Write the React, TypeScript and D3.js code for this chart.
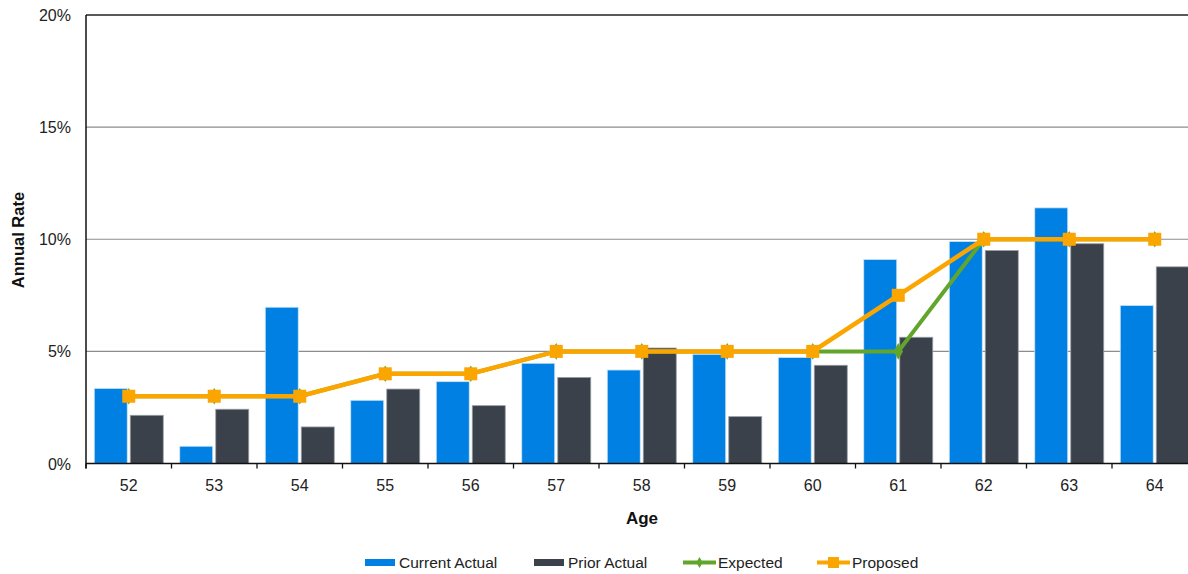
import React, { useEffect, useRef } from "react";
import * as d3 from "d3";

const ages = ["52", "53", "54", "55", "56", "57", "58", "59", "60", "61", "62", "63", "64"];
const currentActual = [3.35, 0.77, 6.97, 2.82, 3.65, 4.47, 4.17, 4.87, 4.73, 9.1, 9.9, 11.4, 7.05];
const priorActual = [2.15, 2.42, 1.63, 3.32, 2.58, 3.84, 5.15, 2.09, 4.38, 5.63, 9.5, 9.8, 8.77];
const expected = [3, 3, 3, 4, 4, 5, 5, 5, 5, 5, 10, 10, 10];
const proposed = [3, 3, 3, 4, 4, 5, 5, 5, 5, 7.5, 10, 10, 10];
const yTicks = [0, 5, 10, 15, 20];

const W = 1188;
const H = 574;
const FONT = "'Liberation Sans', Arial, sans-serif";
const BLUE = "#0080E2";
const GRAY = "#3A414B";
const GREEN = "#62A52C";
const ORANGE = "#FBA500";

export default function App() {
  const ref = useRef<SVGSVGElement>(null);

  useEffect(() => {
    const svg = d3.select(ref.current);
    svg.selectAll("*").remove();

    const left = 86;
    const right = 1197.5;
    const top = 15;
    const bottom = 463.5;

    const x = d3.scaleBand<string>().domain(ages).range([left, right]).padding(0);
    const bw = x.bandwidth();
    const xs = d3
      .scaleBand<string>()
      .domain(["cur", "prior"])
      .range([0, bw])
      .paddingInner(1 / 12)
      .paddingOuter(0.229);
    const y = d3.scaleLinear().domain([0, 20]).range([bottom, top]);

    // gridlines
    svg
      .append("g")
      .selectAll("line")
      .data(yTicks.filter((t) => t > 0 && t < 20))
      .join("line")
      .attr("x1", left)
      .attr("x2", right)
      .attr("y1", (d) => y(d))
      .attr("y2", (d) => y(d))
      .attr("stroke", "#8c8c8c")
      .attr("stroke-width", 1.2);

    // top border
    svg
      .append("line")
      .attr("x1", left)
      .attr("x2", right)
      .attr("y1", y(20))
      .attr("y2", y(20))
      .attr("stroke", "#222")
      .attr("stroke-width", 1.5);

    // bars
    const bars = svg.append("g");
    bars
      .selectAll("rect.cur")
      .data(currentActual)
      .join("rect")
      .attr("class", "cur")
      .attr("x", (_, i) => (x(ages[i]) as number) + (xs("cur") as number))
      .attr("width", xs.bandwidth())
      .attr("y", (d) => y(d))
      .attr("height", (d) => bottom - y(d))
      .attr("fill", BLUE)
      .attr("stroke", "#cfe5f7")
      .attr("stroke-width", 0.8);
    bars
      .selectAll("rect.prior")
      .data(priorActual)
      .join("rect")
      .attr("class", "prior")
      .attr("x", (_, i) => (x(ages[i]) as number) + (xs("prior") as number))
      .attr("width", xs.bandwidth())
      .attr("y", (d) => y(d))
      .attr("height", (d) => bottom - y(d))
      .attr("fill", GRAY)
      .attr("stroke", "#9aa0a6")
      .attr("stroke-width", 0.8);

    const cx = (i: number) => (x(ages[i]) as number) + bw / 2;
    const line = d3
      .line<number>()
      .x((_, i) => cx(i))
      .y((d) => y(d));

    // expected line
    svg
      .append("path")
      .datum(expected)
      .attr("d", line)
      .attr("fill", "none")
      .attr("stroke", GREEN)
      .attr("stroke-width", 4);
    svg
      .append("g")
      .selectAll("path")
      .data(expected)
      .join("path")
      .attr("d", d3.symbol(d3.symbolDiamond, 80)())
      .attr("transform", (d, i) => `translate(${cx(i)},${y(d)})`)
      .attr("fill", GREEN);

    // proposed line
    svg
      .append("path")
      .datum(proposed)
      .attr("d", line)
      .attr("fill", "none")
      .attr("stroke", ORANGE)
      .attr("stroke-width", 4.5);
    svg
      .append("g")
      .selectAll("rect")
      .data(proposed)
      .join("rect")
      .attr("x", (_, i) => cx(i) - 6.5)
      .attr("y", (d) => y(d) - 6.5)
      .attr("width", 13)
      .attr("height", 13)
      .attr("fill", ORANGE);

    // axes lines
    svg
      .append("line")
      .attr("x1", left)
      .attr("x2", left)
      .attr("y1", top)
      .attr("y2", bottom + 5)
      .attr("stroke", "#111")
      .attr("stroke-width", 1.5);
    svg
      .append("line")
      .attr("x1", left)
      .attr("x2", right)
      .attr("y1", bottom)
      .attr("y2", bottom)
      .attr("stroke", "#111")
      .attr("stroke-width", 1.5);
    svg
      .append("g")
      .selectAll("line")
      .data(ages)
      .join("line")
      .attr("x1", (d) => (x(d) as number))
      .attr("x2", (d) => (x(d) as number))
      .attr("y1", bottom)
      .attr("y2", bottom + 5)
      .attr("stroke", "#111")
      .attr("stroke-width", 1.3);

    // tick labels
    svg
      .append("g")
      .selectAll("text")
      .data(ages)
      .join("text")
      .attr("x", (d) => (x(d) as number) + bw / 2)
      .attr("y", 491)
      .attr("text-anchor", "middle")
      .attr("font-family", FONT)
      .attr("font-size", 16)
      .attr("fill", "#222")
      .text((d) => d);
    svg
      .append("g")
      .selectAll("text")
      .data(yTicks)
      .join("text")
      .attr("x", 71)
      .attr("y", (d) => y(d) + 6)
      .attr("text-anchor", "end")
      .attr("font-family", FONT)
      .attr("font-size", 16)
      .attr("fill", "#222")
      .text((d) => `${d}%`);

    // axis titles
    svg
      .append("text")
      .attr("x", (left + 1188) / 2 + 5)
      .attr("y", 524)
      .attr("text-anchor", "middle")
      .attr("font-family", FONT)
      .attr("font-size", 17)
      .attr("font-weight", "bold")
      .attr("fill", "#111")
      .text("Age");
    svg
      .append("text")
      .attr("transform", `translate(23.5,240) rotate(-90)`)
      .attr("text-anchor", "middle")
      .attr("font-family", FONT)
      .attr("font-size", 16.5)
      .attr("font-weight", "bold")
      .attr("fill", "#111")
      .text("Annual Rate");

    // legend
    const lg = svg.append("g").attr("font-family", FONT).attr("font-size", 15.5).attr("fill", "#222");
    const ly = 562.5;
    const ty = ly + 5.5;
    lg.append("rect").attr("x", 365).attr("y", ly - 3.5).attr("width", 30).attr("height", 7).attr("fill", BLUE);
    lg.append("text").attr("x", 399).attr("y", ty).text("Current Actual");
    lg.append("rect").attr("x", 534).attr("y", ly - 3.5).attr("width", 30).attr("height", 7).attr("fill", GRAY);
    lg.append("text").attr("x", 568).attr("y", ty).text("Prior Actual");
    lg.append("line").attr("x1", 683).attr("x2", 716).attr("y1", ly).attr("y2", ly).attr("stroke", GREEN).attr("stroke-width", 4);
    lg.append("path").attr("d", d3.symbol(d3.symbolDiamond, 36)()).attr("transform", `translate(699.5,${ly})`).attr("fill", GREEN);
    lg.append("text").attr("x", 718).attr("y", ty).text("Expected");
    lg.append("line").attr("x1", 817).attr("x2", 850).attr("y1", ly).attr("y2", ly).attr("stroke", ORANGE).attr("stroke-width", 4);
    lg.append("rect").attr("x", 828).attr("y", ly - 5.5).attr("width", 11).attr("height", 11).attr("fill", ORANGE);
    lg.append("text").attr("x", 852).attr("y", ty).text("Proposed");
  }, []);

  return (
    <svg
      ref={ref}
      width={W}
      height={H}
      style={{ position: "absolute", left: 0, top: 0, background: "#fff" }}
    />
  );
}
